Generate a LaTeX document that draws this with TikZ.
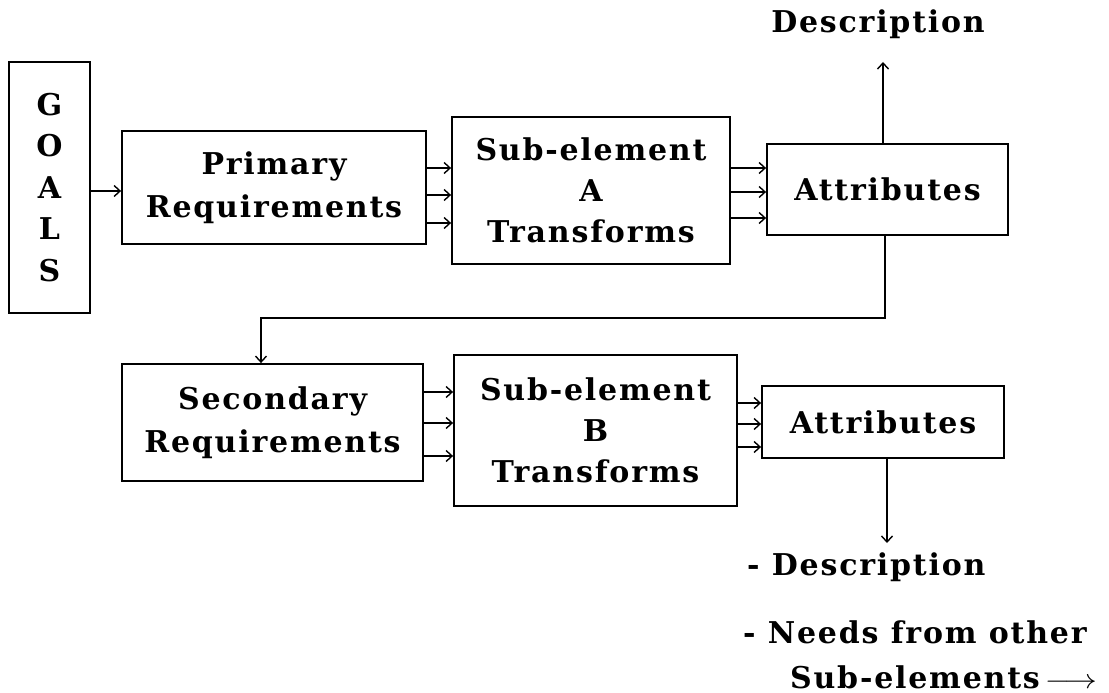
\documentclass[tikz,border=0pt]{standalone}
\usepackage{fontspec}
\setmainfont{DejaVu Serif}[LetterSpace=6]
\usetikzlibrary{arrows.meta}
\tikzset{
  box/.style={draw, line width=1.8pt, inner sep=0pt, align=center, font=\bfseries\fontsize{30}{41}\selectfont},
  arr/.style={line width=1.4pt, -{Straight Barb[length=6pt,width=11pt,line width=1.4pt]}},
  lbl/.style={inner sep=0pt, font=\bfseries\fontsize{30}{40}\selectfont},
}
\begin{document}
\begin{tikzpicture}[x=1pt,y=-1pt]
\useasboundingbox (0,0) rectangle (1109,693);
\node[box, minimum width=81pt, minimum height=251pt, font=\bfseries\fontsize{30}{41.5}\selectfont] (goals) at (49.5,187.5) {G\\O\\A\\L\\S};
\node[box, minimum width=304pt, minimum height=113pt, font=\bfseries\fontsize{30}{43}\selectfont] (prim) at (274,187.5) {Primary\\Requirements};
\node[box, minimum width=278pt, minimum height=147pt] (subA) at (591,190.5) {Sub-element\\A\\Transforms};
\node[box, minimum width=241pt, minimum height=91pt] (attrA) at (887.5,189.5) {Attributes};
\node[box, minimum width=301pt, minimum height=117pt, font=\bfseries\fontsize{30}{43}\selectfont] (sec) at (272.5,422.5) {Secondary\\Requirements};
\node[box, minimum width=283pt, minimum height=151pt] (subB) at (595.5,430.5) {Sub-element\\B\\Transforms};
\node[box, minimum width=242pt, minimum height=72pt] (attrB) at (883,422) {Attributes};
\node[lbl] (descA) at (878,24) {Description};
\node[lbl, anchor=west] (descB) at (747,567) {- Description};
\node[lbl, anchor=west] (needs) at (743,632) {- Needs from other};
\node[lbl, anchor=base west] (subs) at (790,688) {Sub-elements\,\scalebox{1.3}[1.1]{$\longrightarrow$}};
\coordinate (topA) at (883,62);
\coordinate (botB) at (887,543);
% goals -> primary
\draw[arr] (goals.east|-0,191) -- (prim.west|-0,191);
% primary -> sub A
\foreach \y in {168,195,223} \draw[arr] (prim.east|-0,\y) -- (subA.west|-0,\y);
% sub A -> attributes A
\foreach \y in {168,192,218} \draw[arr] (subA.east|-0,\y) -- (attrA.west|-0,\y);
% attributes A -> description
\draw[arr] (attrA.north-|topA) -- (topA);
% attributes A -> secondary
\draw[arr] (attrA.south-|885,0) |- (261,318) -- (sec.north-|261,0);
% secondary -> sub B
\foreach \y in {392,423,456} \draw[arr] (sec.east|-0,\y) -- (subB.west|-0,\y);
% sub B -> attributes B
\foreach \y in {403,424,447} \draw[arr] (subB.east|-0,\y) -- (attrB.west|-0,\y);
% attributes B -> description list
\draw[arr] (attrB.south-|botB) -- (botB);
\end{tikzpicture}
\end{document}
